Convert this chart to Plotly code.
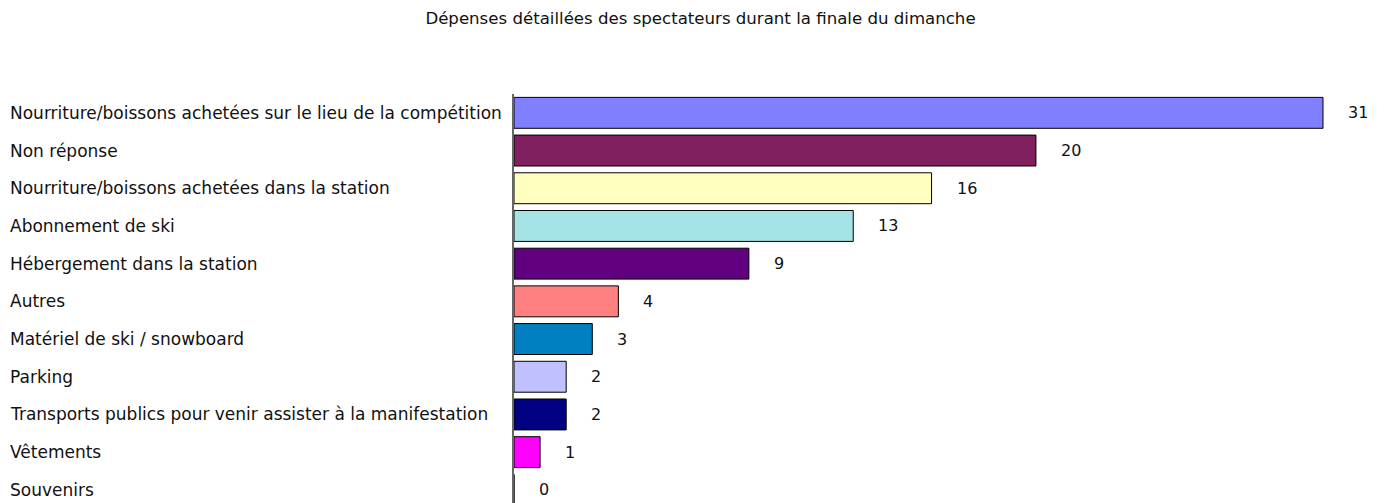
import plotly.graph_objects as go

categories = [
    "Nourriture/boissons achetées sur le lieu de la compétition",
    "Non réponse",
    "Nourriture/boissons achetées dans la station",
    "Abonnement de ski",
    "Hébergement dans la station",
    "Autres",
    "Matériel de ski / snowboard",
    "Parking",
    "Transports publics pour venir assister à la manifestation",
    "Vêtements",
    "Souvenirs",
]
values = [31, 20, 16, 13, 9, 4, 3, 2, 2, 1, 0]
colors = ["#8080FF", "#80205F", "#FFFFC0", "#A6E3E6", "#600080", "#FF8080",
          "#0080C0", "#C0C0FF", "#000080", "#FF00FF", "#FFFFFF"]
title = "Dépenses détaillées des spectateurs durant la finale du dimanche"

W, H = 1385, 503
ML, MT = 506, 86
plot_w = W - ML
px_per_unit = 809 / 31
x_max = plot_w / px_per_unit
band = 37.7
n_bands = (H - MT) / band

FONT = "DejaVu Sans, Verdana, sans-serif"
FS = 17

fig = go.Figure()
fig.add_trace(go.Bar(
    y=categories, x=values, orientation="h",
    marker=dict(color=colors, line=dict(color="#000000", width=1)),
    width=0.82, showlegend=False, hoverinfo="x+y",
))

annotations = []
for c, v in zip(categories, values):
    annotations.append(dict(x=v, y=c, xref="x", yref="y", text=str(v),
                            showarrow=False, xanchor="left", xshift=23,
                            font=dict(family=FONT, size=16, color="#111")))
    annotations.append(dict(x=-ML / plot_w, y=c, xref="paper", yref="y",
                            text=c, showarrow=False, xanchor="left",
                            font=dict(family=FONT, size=FS, color="#111")))

fig.update_layout(
    width=W, height=H,
    margin=dict(l=ML, r=0, t=MT, b=0),
    paper_bgcolor="white", plot_bgcolor="white",
    title=dict(text=title, x=0.5, xanchor="center", y=1 - 10 / H, yanchor="middle",
               font=dict(family=FONT, size=16.6, color="#111")),
    xaxis=dict(range=[0, x_max], showgrid=False, showticklabels=False,
               zeroline=False, showline=False, ticks=""),
    yaxis=dict(categoryorder="array", categoryarray=categories,
               range=[n_bands - 0.5, -0.5], showgrid=False, showticklabels=False,
               showline=True, linecolor="#666666", linewidth=2, ticks="",
               zeroline=False),
    annotations=annotations,
)

fig.write_html("out.html")
